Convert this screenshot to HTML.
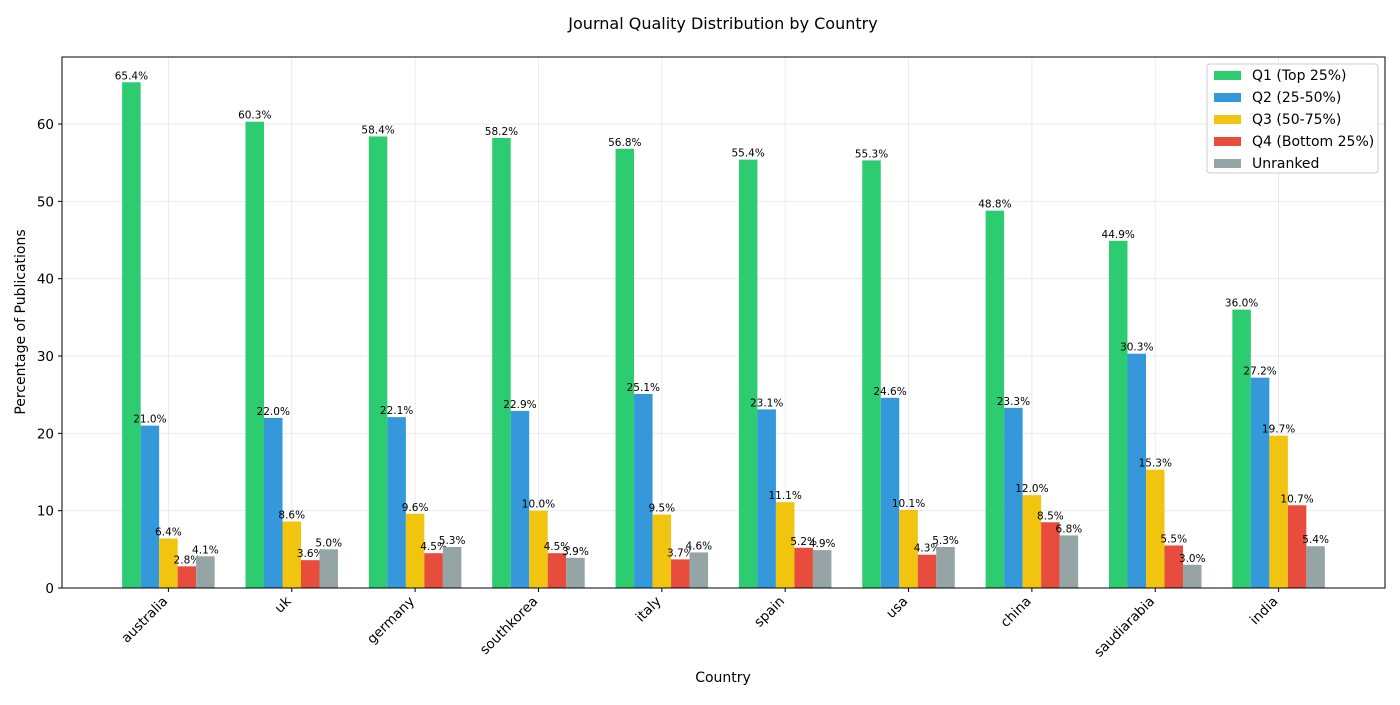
<!DOCTYPE html>
<html><head><meta charset="utf-8"><style>
body{margin:0;background:#fff;font-family:"Liberation Sans","DejaVu Sans",sans-serif;}
</style></head><body>
<svg id="chart" width="1400" height="700" xmlns="http://www.w3.org/2000/svg" font-family="DejaVu Sans, Liberation Sans, sans-serif"></svg>
<script>
const categories=["australia","uk","germany","southkorea","italy","spain","usa","china","saudiarabia","india"];
const seriesNames=["Q1 (Top 25%)","Q2 (25-50%)","Q3 (50-75%)","Q4 (Bottom 25%)","Unranked"];
const q1=[65.4,60.3,58.4,58.2,56.8,55.4,55.3,48.8,44.9,36.0];
const q2=[21.0,22.0,22.1,22.9,25.1,23.1,24.6,23.3,30.3,27.2];
const q3=[6.4,8.6,9.6,10.0,9.5,11.1,10.1,12.0,15.3,19.7];
const q4=[2.8,3.6,4.5,4.5,3.7,5.2,4.3,8.5,5.5,10.7];
const unranked=[4.1,5.0,5.3,3.9,4.6,4.9,5.3,6.8,3.0,5.4];
const yTicks=[0,10,20,30,40,50,60];
const series=[q1,q2,q3,q4,unranked];
const colors=["#2ecc71","#3498db","#f1c40f","#e74c3c","#95a5a6"];
const L=62,R=1385,T=57,B=588;
const ymax=Math.max(...series.flat())*1.05;
const xmin=-0.8625,xmax=categories.length-1+0.8625;
const X=v=>L+(v-xmin)/(xmax-xmin)*(R-L);
const Y=v=>B-v/ymax*(B-T);
const svg=document.getElementById('chart');
const NS="http://www.w3.org/2000/svg";
function el(tag,attrs,parent){const e=document.createElementNS(NS,tag);for(const k in attrs)e.setAttribute(k,attrs[k]);(parent||svg).appendChild(e);return e;}
const bw=0.15;
yTicks.forEach(t=>{const g=el('line',{x1:L,x2:R,y1:Y(t),y2:Y(t),stroke:'#b0b0b0','stroke-opacity':0.3,'stroke-width':0.8});

});
categories.forEach((c,i)=>{const g=el('line',{x1:X(i),x2:X(i),y1:T,y2:B,stroke:'#b0b0b0','stroke-opacity':0.3,'stroke-width':0.8});

});
series.forEach((s,si)=>{s.forEach((v,i)=>{const cx=i+(si-2)*bw;
const r=el('rect',{x:X(cx-bw/2),y:Y(v),width:X(cx+bw/2)-X(cx-bw/2),height:Y(0)-Y(v),fill:colors[si]});


const t=el('text',{x:X(cx),y:Y(v)-3,'text-anchor':'middle','font-size':10.5,fill:'#000'});t.textContent=v.toFixed(1)+'%';

});});
const box=el('rect',{x:L,y:T,width:R-L,height:B-T,fill:'none',stroke:'#000','stroke-width':1});


yTicks.forEach(t=>{el('line',{x1:L-4,x2:L,y1:Y(t),y2:Y(t),stroke:'#000'});
const tx=el('text',{x:L-8,y:Y(t)+5,'text-anchor':'end','font-size':13.5});tx.textContent=t;

});
categories.forEach((c,i)=>{el('line',{x1:X(i),x2:X(i),y1:B,y2:B+4,stroke:'#000'});
const tx=el('text',{x:X(i)+0,y:B+14,'text-anchor':'end','font-size':13.5,transform:`rotate(-45 ${X(i)+0} ${B+14})`});tx.textContent=c;

});
const ti=el('text',{x:723,y:29,'text-anchor':'middle','font-size':16});ti.textContent='Journal Quality Distribution by Country';


const xl=el('text',{x:723,y:682,'text-anchor':'middle','font-size':14});xl.textContent='Country';


const yl=el('text',{x:25,y:322,'text-anchor':'middle','font-size':14,transform:'rotate(-90 25 322)'});yl.textContent='Percentage of Publications';


const lg=el('g',{});


el('rect',{x:1207,y:64,width:171,height:109,fill:'#fff','fill-opacity':0.8,stroke:'#ccc',rx:3},lg);
seriesNames.forEach((n,i)=>{const y=75+i*22;
el('rect',{x:1214,y:y-4,width:27,height:9,fill:colors[i]},lg);
const t=el('text',{x:1252,y:y+5,'font-size':14},lg);t.textContent=n;

});
</script>
</body></html>
